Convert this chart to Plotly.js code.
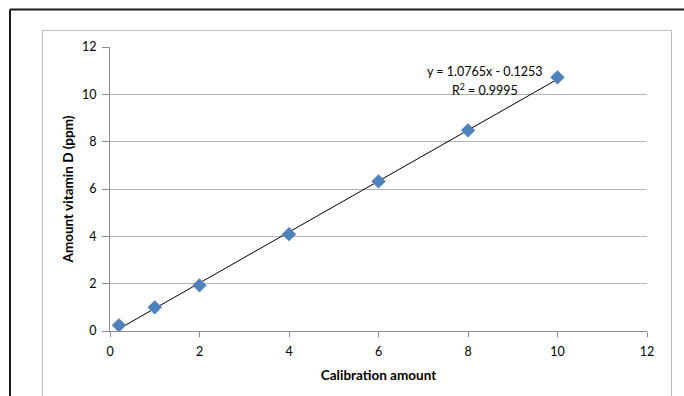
<!DOCTYPE html>
<html>
<head>
<meta charset="utf-8">
<script src="https://cdn.plot.ly/plotly-3.0.1.min.js"></script>
<style>
html,body{margin:0;padding:0;background:#fff;}
#chart{width:684px;height:396px;}
</style>
</head>
<body>
<div id="chart"></div>
<script>
// Data
const calibration = [0.2, 1, 2, 4, 6, 8, 10];
const vitaminD = [0.24, 1.0, 1.93, 4.09, 6.32, 8.48, 10.72];
const slope = 1.0765;
const intercept = -0.1253;
const trendX = [0.2, 10];
const trendY = trendX.map(v => slope * v + intercept);
const tickVals = [0, 2, 4, 6, 8, 10, 12];
const eqText = "y = 1.0765x - 0.1253";
const r2Text = "R<sup>2</sup> = 0.9995";

const L = 110, R = 37, T = 47, B = 65, W = 684, H = 396;
const pw = W - L - R, ph = H - T - B;
const px = x => (x - L) / pw;
const py = y => (H - B - y) / ph;

const font = "Lato, 'Open Sans', 'Liberation Sans', sans-serif";

const traces = [
  {
    x: trendX, y: trendY, mode: 'lines', type: 'scatter',
    line: {color: '#000000', width: 1}, hoverinfo: 'skip', showlegend: false
  },
  {
    x: calibration, y: vitaminD, mode: 'markers', type: 'scatter',
    marker: {symbol: 'diamond', size: 11, color: '#4F81BD', line: {width: 0}},
    showlegend: false
  }
];

const layout = {
  width: W, height: H,
  margin: {l: L, r: R, t: T, b: B, pad: 0},
  paper_bgcolor: '#ffffff', plot_bgcolor: '#ffffff',
  font: {family: font, size: 12, color: '#000000'},
  xaxis: {
    range: [0, 12], tickvals: tickVals, ticktext: tickVals.map(String),
    showgrid: false, zeroline: false,
    showline: true, linecolor: '#8C8C8C', linewidth: 1,
    ticks: 'outside', ticklen: 5, tickcolor: '#8C8C8C',
    ticklabelstandoff: 4,
    tickfont: {size: 12.5, family: font},
    title: {text: '<b>Calibration amount</b>', font: {size: 13.5, family: font}, standoff: 12}
  },
  yaxis: {
    range: [0, 12], tickvals: tickVals, ticktext: tickVals.map(String),
    showgrid: true, gridcolor: '#B3B3B3', gridwidth: 1, zeroline: false,
    showline: true, linecolor: '#8C8C8C', linewidth: 1,
    ticks: 'outside', ticklen: 7, tickcolor: '#8C8C8C',
    ticklabelstandoff: 3,
    tickfont: {size: 12.5, family: font},
    title: {text: '<b>Amount vitamin D (ppm)</b>', font: {size: 13.5, family: font}, standoff: 5}
  },
  annotations: [
    {x: 8.37, y: 10.98, xref: 'x', yref: 'y', text: eqText, showarrow: false,
     font: {size: 12.5, family: font, color: '#000'}, xanchor: 'center', yanchor: 'middle'},
    {x: 8.37, y: 10.2, xref: 'x', yref: 'y', text: r2Text, showarrow: false,
     font: {size: 12.5, family: font, color: '#000'}, xanchor: 'center', yanchor: 'middle'}
  ],
  shapes: [
    // outer frame (dark)
    {type: 'line', xref: 'paper', yref: 'paper', x0: px(10), x1: px(700), y0: py(9.5), y1: py(9.5),
     line: {color: '#1a1a1a', width: 2}},
    {type: 'line', xref: 'paper', yref: 'paper', x0: px(10), x1: px(10), y0: py(9.5), y1: py(410),
     line: {color: '#1a1a1a', width: 2}},
    // inner chart area border (light grey)
    {type: 'line', xref: 'paper', yref: 'paper', x0: px(42.5), x1: px(671.5), y0: py(30.5), y1: py(30.5),
     line: {color: '#BDBDBD', width: 1}},
    {type: 'line', xref: 'paper', yref: 'paper', x0: px(42.5), x1: px(42.5), y0: py(30.5), y1: py(410),
     line: {color: '#BDBDBD', width: 1}},
    {type: 'line', xref: 'paper', yref: 'paper', x0: px(671.5), x1: px(671.5), y0: py(30.5), y1: py(410),
     line: {color: '#BDBDBD', width: 1}}
  ]
};

Plotly.newPlot('chart', traces, layout, {displayModeBar: false, staticPlot: true});
</script>
</body>
</html>
